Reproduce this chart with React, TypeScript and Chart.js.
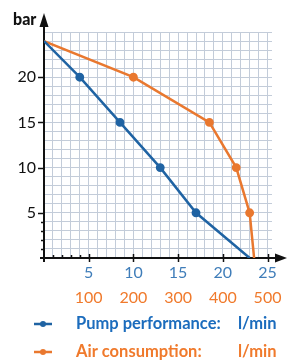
import React, { useEffect, useRef } from "react";
import { Chart, registerables } from "chart.js";

Chart.register(...registerables);

// Pump performance (l/min) vs pressure (bar)
const pumpFlow = [0, 4, 8.5, 13, 17, 23];
const pumpPressure = [24, 20, 15, 10, 5, 0];
const pumpMarkers = [0, 1, 1, 1, 1, 0];

// Air consumption (l/min) vs pressure (bar)
const airFlow = [0, 200, 370, 430, 460, 470];
const airPressure = [24, 20, 15, 10, 5, 0];
const airMarkers = [0, 1, 1, 1, 1, 0];

const pumpTickLabels = [5, 10, 15, 20, 25];
const airTickLabels = [100, 200, 300, 400, 500];
const pressureTickLabels = [5, 10, 15, 20];

const legendItems = ["Pump performance:", "Air consumption:"];
const unitLabel = "l/min";
const yUnit = "bar";

const BLUE = "#1f63a3";
const BLUE_TEXT = "#1b6cbd";
const BLUE_TICK = "#3f7db9";
const ORANGE = "#e9782f";
const ORANGE_TEXT = "#f07a2c";
const GRID = "#c3ccd9";
const FONT = "Lato, 'Noto Sans', sans-serif";

const axesPlugin = {
  id: "axesArrows",
  beforeDatasetsDraw(chart: any) {
    const { ctx, chartArea, scales } = chart;
    const { left, bottom, top, right } = chartArea;
    ctx.save();
    ctx.strokeStyle = "#111";
    ctx.fillStyle = "#111";
    ctx.lineWidth = 2;
    // y axis
    ctx.beginPath();
    ctx.moveTo(left, bottom + 4);
    ctx.lineTo(left, top - 6);
    ctx.stroke();
    ctx.beginPath();
    ctx.moveTo(left, top - 19);
    ctx.lineTo(left - 4.5, top - 5);
    ctx.lineTo(left + 4.5, top - 5);
    ctx.closePath();
    ctx.fill();
    // x axis
    ctx.beginPath();
    ctx.moveTo(left - 4, bottom);
    ctx.lineTo(right + 5, bottom);
    ctx.stroke();
    ctx.beginPath();
    ctx.moveTo(right + 15, bottom);
    ctx.lineTo(right + 3, bottom - 4.5);
    ctx.lineTo(right + 3, bottom + 4.5);
    ctx.closePath();
    ctx.fill();
    // ticks
    ctx.lineWidth = 1.5;
    const y = scales.y;
    const x = scales.x;
    for (let v = 1; v <= 20; v++) {
      const py = Math.round(y.getPixelForValue(v)) + 0.5;
      if (v % 5 === 0) {
        ctx.beginPath();
        ctx.moveTo(left - 6, py);
        ctx.lineTo(left, py);
        ctx.stroke();
      } else if (v < 5) {
        ctx.beginPath();
        ctx.moveTo(left - 3, py);
        ctx.lineTo(left, py);
        ctx.stroke();
      }
    }
    for (let v = 1; v <= 25; v++) {
      const px = Math.round(x.getPixelForValue(v)) + 0.5;
      if (v % 5 === 0) {
        ctx.beginPath();
        ctx.moveTo(px, bottom - 4);
        ctx.lineTo(px, bottom + 4);
        ctx.stroke();
      } else if (v < 5) {
        ctx.beginPath();
        ctx.moveTo(px, bottom - 3);
        ctx.lineTo(px, bottom);
        ctx.stroke();
      }
    }
    ctx.restore();
  },
  afterDraw(chart: any) {
    const { ctx, chartArea } = chart;
    ctx.save();
    // y unit
    ctx.fillStyle = "#111";
    ctx.font = `900 16px ${FONT}`;
    ctx.textAlign = "left";
    ctx.textBaseline = "alphabetic";
    ctx.fillText(yUnit, chartArea.left - 31, 25);
    // legend
    const rows = [
      { y: 324, line: BLUE, text: BLUE_TEXT },
      { y: 352, line: ORANGE, text: ORANGE_TEXT },
    ];
    rows.forEach((r, i) => {
      ctx.strokeStyle = r.line;
      ctx.fillStyle = r.line;
      ctx.lineWidth = 2.5;
      ctx.beginPath();
      ctx.moveTo(34, r.y);
      ctx.lineTo(52, r.y);
      ctx.stroke();
      ctx.beginPath();
      ctx.arc(43, r.y, 3, 0, Math.PI * 2);
      ctx.fill();
      ctx.fillStyle = r.text;
      ctx.font = `bold 16.5px ${FONT}`;
      ctx.textBaseline = "middle";
      ctx.fillText(legendItems[i], 76, r.y);
      ctx.fillText(unitLabel, 238, r.y);
    });
    ctx.restore();
  },
};

export default function App() {
  const ref = useRef<HTMLCanvasElement>(null);
  useEffect(() => {
    if (!ref.current) return;
    const chart = new Chart(ref.current, {
      type: "line",
      data: {
        datasets: [
          {
            label: legendItems[0],
            data: pumpFlow.map((v, i) => ({ x: v, y: pumpPressure[i] })),
            xAxisID: "x",
            borderColor: BLUE,
            backgroundColor: BLUE,
            borderWidth: 2.5,
            pointRadius: pumpMarkers.map((m) => (m ? 3.2 : 0)),
            pointHoverRadius: 0,
            tension: 0,
          },
          {
            label: legendItems[1],
            data: airFlow.map((v, i) => ({ x: v, y: airPressure[i] })),
            xAxisID: "x2",
            borderColor: ORANGE,
            backgroundColor: ORANGE,
            borderWidth: 2.5,
            pointRadius: airMarkers.map((m) => (m ? 3.2 : 0)),
            pointHoverRadius: 0,
            tension: 0,
          },
        ],
      },
      options: {
        responsive: false,
        animation: false,
        layout: { padding: { left: 0, top: 32, right: 18, bottom: 57 } },
        plugins: { legend: { display: false }, tooltip: { enabled: false } },
        scales: {
          x: {
            type: "linear",
            position: "bottom",
            min: 0,
            max: 25.5,
            afterFit: (s: any) => {
              s.height = 24;
            },
            afterBuildTicks: (s: any) => {
              const t = [];
              for (let v = 0; v <= 25; v++) t.push({ value: v });
              s.ticks = t;
            },
            ticks: {
              autoSkip: false,
              maxRotation: 0,
              padding: 5,
              color: BLUE_TICK,
              font: { family: FONT, size: 16 },
              callback: (v: any) => (pumpTickLabels.includes(v) ? String(v) : ""),
            },
            grid: { color: GRID, lineWidth: 1, drawTicks: false },
            border: { display: false },
          },
          x2: {
            type: "linear",
            position: "bottom",
            min: 0,
            max: 510,
            afterFit: (s: any) => {
              s.height = 24;
            },
            afterBuildTicks: (s: any) => {
              s.ticks = airTickLabels.map((v) => ({ value: v }));
            },
            ticks: {
              autoSkip: false,
              maxRotation: 0,
              padding: 6,
              color: ORANGE_TEXT,
              font: { family: FONT, size: 16 },
              callback: (v: any) => String(v),
            },
            grid: { display: false, drawTicks: false },
            border: { display: false },
          },
          y: {
            type: "linear",
            min: 0,
            max: 25,
            afterFit: (s: any) => {
              s.width = 44;
            },
            afterBuildTicks: (s: any) => {
              const t = [];
              for (let v = 0; v <= 25; v++) t.push({ value: v });
              s.ticks = t;
            },
            ticks: {
              autoSkip: false,
              padding: 8,
              color: "#111",
              font: { family: FONT, size: 16 },
              callback: (v: any) => (pressureTickLabels.includes(v) ? String(v) : ""),
            },
            grid: { color: GRID, lineWidth: 1, drawTicks: false },
            border: { display: false },
          },
        },
      },
      plugins: [axesPlugin],
    } as any);
    return () => chart.destroy();
  }, []);
  return (
    <div style={{ position: "absolute", left: 0, top: 0, width: 290, height: 363, background: "#fff" }}>
      <canvas ref={ref} width={290} height={363} />
    </div>
  );
}
